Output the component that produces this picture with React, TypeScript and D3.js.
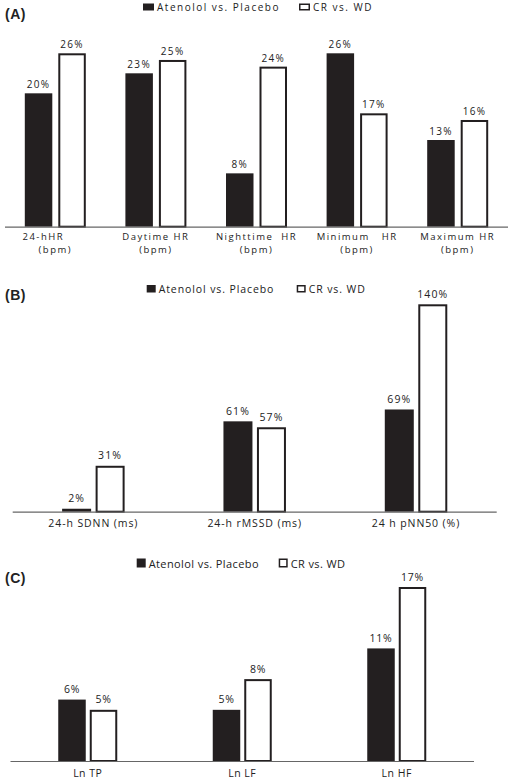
import React from "react";
import * as d3 from "d3";

const seriesNames = ["Atenolol vs. Placebo", "CR vs. WD"];

const catsA = [["24-hHR", "(bpm)"], ["Daytime HR", "(bpm)"], ["Nighttime  HR", "(bpm)"], ["Minimum   HR", "(bpm)"], ["Maximum HR", "(bpm)"]];
const atenololA = [20, 23, 8, 26, 13];
const crA = [26, 25, 24, 17, 16];

const catsB = [["24-h SDNN (ms)"], ["24-h rMSSD (ms)"], ["24 h pNN50 (%)"]];
const atenololB = [2, 61, 69];
const crB = [31, 57, 140];

const catsC = [["Ln TP"], ["Ln LF"], ["Ln HF"]];
const atenololC = [6, 5, 11];
const crC = [5, 8, 17];

const BLACK = "#231f20";
const TEXT = "#222";
const FONT = "'Open Sans', sans-serif";

type Cfg = {
  title: string;
  titleY: number;
  cats: string[][];
  a: number[];
  b: number[];
  xRange: [number, number];
  y0: number;
  yTopVal: number;
  yTopPx: number;
  barW: number;
  gap: number;
  valFont: number;
  valLs: number;
  valOff: number;
  catFont: number;
  catLs: number;
  catY: number;
  catLineH: number;
  catDx?: number[];
  legY: number;
  legX: number[];
  legSq: [number, number];
  legFont: number;
  legLs: number;
};

function Panel({ c }: { c: Cfg }) {
  const labels = c.cats.map((l) => l.join("|"));
  const x = d3.scaleBand<string>().domain(labels).range(c.xRange).padding(0);
  const y = d3.scaleLinear().domain([0, c.yTopVal]).range([c.y0, c.yTopPx]);
  const half = (c.barW * 2 + c.gap) / 2;
  return (
    <g>
      <text x={5} y={c.titleY} fontFamily="'Liberation Sans', Arial, sans-serif" fontWeight="bold" fontSize={14} fill="#222" letterSpacing={0.5}>
        {c.title}
      </text>
      <rect x={c.legX[0]} y={c.legY - c.legSq[1] - 0.5} width={c.legSq[0]} height={c.legSq[1]} fill={BLACK} />
      <text x={c.legX[0] + c.legSq[0] + 3} y={c.legY} fontFamily={FONT} fontSize={c.legFont} letterSpacing={c.legLs} fill={TEXT}>
        {seriesNames[0]}
      </text>
      <rect x={c.legX[1] + 0.75} y={c.legY - c.legSq[1] - 0.5 + 0.75} width={c.legSq[0] - 1.5} height={c.legSq[1] - 1.5} fill="#fff" stroke={BLACK} strokeWidth={1.5} />
      <text x={c.legX[1] + c.legSq[0] + 3} y={c.legY} fontFamily={FONT} fontSize={c.legFont} letterSpacing={c.legLs} fill={TEXT}>
        {seriesNames[1]}
      </text>
      {labels.map((lab, i) => {
        const cx = (x(lab) as number) + x.bandwidth() / 2;
        const xa = cx - half;
        const xb = cx - half + c.barW + c.gap;
        const ya = y(c.a[i]);
        const yb = y(c.b[i]);
        return (
          <g key={lab}>
            <rect x={xa} y={ya} width={c.barW} height={c.y0 - ya} fill={BLACK} />
            <rect x={xb + 1} y={yb + 1} width={c.barW - 2} height={c.y0 - yb - 1} fill="#fff" stroke={BLACK} strokeWidth={2} />
            <text x={xa + c.barW / 2} y={ya - c.valOff} textAnchor="middle" fontFamily={FONT} fontSize={c.valFont} letterSpacing={c.valLs} fill={TEXT}>
              {c.a[i] + "%"}
            </text>
            <text x={xb + c.barW / 2} y={yb - c.valOff} textAnchor="middle" fontFamily={FONT} fontSize={c.valFont} letterSpacing={c.valLs} fill={TEXT}>
              {c.b[i] + "%"}
            </text>
            {c.cats[i].map((line, j) => (
              <text
                key={j}
                x={cx + (j === 0 && c.catDx ? c.catDx[i] : 0)}
                y={c.catY + j * c.catLineH}
                textAnchor="middle"
                fontFamily={FONT}
                fontSize={c.catFont}
                letterSpacing={c.catLs}
                fill={TEXT}
                style={{ whiteSpace: "pre" }}
              >
                {line}
              </text>
            ))}
          </g>
        );
      })}
      <line x1={c.xRange[0]} x2={c.xRange[1]} y1={c.y0 + 0.5} y2={c.y0 + 0.5} stroke="#666" strokeWidth={1.2} />
    </g>
  );
}

const cfgA: Cfg = {
  title: "(A)",
  titleY: 19,
  cats: catsA,
  a: atenololA,
  b: crA,
  xRange: [5, 508],
  y0: 226.7,
  yTopVal: 26,
  yTopPx: 53.3,
  barW: 27.5,
  gap: 6,
  valFont: 10,
  valLs: 1.3,
  valOff: 5,
  catFont: 9.5,
  catLs: 1.5,
  catY: 240,
  catLineH: 12.5,
  catDx: [-12, 0, 0, 0, 0],
  legY: 11,
  legX: [143, 299],
  legSq: [11, 7],
  legFont: 10,
  legLs: 1.5,
};

const cfgB: Cfg = {
  title: "(B)",
  titleY: 300,
  cats: catsB,
  a: atenololB,
  b: crB,
  xRange: [12.7, 496.7],
  y0: 511.7,
  yTopVal: 140,
  yTopPx: 304.3,
  barW: 29,
  gap: 4.5,
  valFont: 10.5,
  valLs: 1.1,
  valOff: 6.5,
  catFont: 10.5,
  catLs: 0.9,
  catY: 527,
  catLineH: 12,
  legY: 293,
  legX: [146.7, 296.7],
  legSq: [9, 7.5],
  legFont: 10.5,
  legLs: 0.9,
};

const cfgC: Cfg = {
  title: "(C)",
  titleY: 583,
  cats: catsC,
  a: atenololC,
  b: crC,
  xRange: [10.5, 474],
  y0: 761,
  yTopVal: 17,
  yTopPx: 587,
  barW: 27.5,
  gap: 4,
  valFont: 10.5,
  valLs: 0.7,
  valOff: 6.5,
  catFont: 10.5,
  catLs: 0.5,
  catY: 777,
  catLineH: 12,
  legY: 568,
  legX: [136.7, 278.7],
  legSq: [9, 9],
  legFont: 11,
  legLs: 0.4,
};

export default function App() {
  return (
    <svg width={514} height={780} style={{ position: "absolute", left: 0, top: 0, background: "#fff" }}>
      <rect width={514} height={780} fill="#fff" />
      <Panel c={cfgA} />
      <Panel c={cfgB} />
      <Panel c={cfgC} />
    </svg>
  );
}
